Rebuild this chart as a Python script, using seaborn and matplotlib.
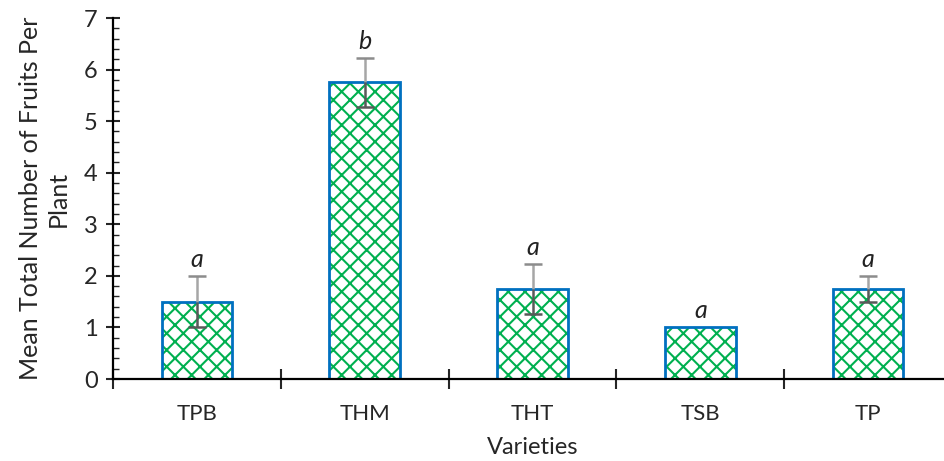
import numpy as np
import pandas as pd
import seaborn as sns
import matplotlib.pyplot as plt
from matplotlib.patches import Rectangle
from matplotlib.ticker import MultipleLocator, FixedLocator

varieties = ["TPB", "THM", "THT", "TSB", "TP"]
mean_fruits = [1.5, 5.75, 1.75, 1.0, 1.75]
std_err = [0.5, 0.48, 0.48, 0.0, 0.25]
letters = ["a", "b", "a", "a", "a"]

df = pd.DataFrame({"Varieties": varieties, "Fruits": mean_fruits})

sns.set_style("ticks")
plt.rcParams["font.family"] = ["Lato", "DejaVu Sans"]
plt.rcParams["hatch.linewidth"] = 1.5

fig = plt.figure(figsize=(9.45, 4.61), dpi=100)
ax = fig.add_axes([113 / 945, 1 - 379 / 461, 839 / 945, 361 / 461])

sns.barplot(data=df, x="Varieties", y="Fruits", ax=ax, width=0.42,
            color="white", edgecolor="#00B050", linewidth=0, errorbar=None)
# green hatch inside, blue outline on top
for p in list(ax.patches):
    p.set_hatch("xx")
    ax.add_patch(Rectangle(p.get_xy(), p.get_width(), p.get_height(), fill=False,
                           edgecolor="#0070C0", linewidth=2.0, zorder=2.5))

x = np.arange(len(varieties))
vals = np.array(mean_fruits)
errs = np.array(std_err)
shown = errs > 0
# upper half of the error bar (light), lower half inside the bar (dark)
ax.vlines(x[shown], vals[shown], vals[shown] + errs[shown], color="#A6A6A6", lw=1.8, zorder=3)
ax.plot(x[shown], vals[shown] + errs[shown], ls="none", marker="_", ms=13, mew=1.8, color="#8C8C8C", zorder=3)
ax.vlines(x[shown], vals[shown] - errs[shown], vals[shown], color="#595959", lw=1.8, zorder=3)
ax.plot(x[shown], vals[shown] - errs[shown], ls="none", marker="_", ms=13, mew=1.8, color="#595959", zorder=3)

for xi, v, e, t in zip(x, vals, errs, letters):
    ax.text(xi, v + e + 0.1, t, ha="center", va="bottom", fontsize=18, style="italic", color="#222222")

ax.set_xlim(-0.5, 4.5)
ax.set_ylim(0, 7)
ax.yaxis.set_major_locator(MultipleLocator(1))
ax.yaxis.set_minor_locator(MultipleLocator(0.2))
ax.xaxis.set_minor_locator(FixedLocator(np.arange(-0.5, 5, 1)))

ax.tick_params(axis="y", which="major", direction="inout", length=10, width=1.5, labelsize=17, pad=6)
ax.tick_params(axis="y", which="minor", direction="in", length=4, width=1.0)
ax.tick_params(axis="x", which="major", length=0, labelsize=16, pad=18)
ax.tick_params(axis="x", which="minor", direction="inout", length=14, width=1.5)

for s in ["top", "right"]:
    ax.spines[s].set_visible(False)
for s in ["left", "bottom"]:
    ax.spines[s].set_linewidth(1.6)
    ax.spines[s].set_color("black")

ax.set_xlabel("Varieties", fontsize=17, labelpad=9)
ax.set_ylabel("Mean Total Number of Fruits Per\nPlant", fontsize=18, labelpad=10, linespacing=1.25)

plt.savefig("out.png", dpi=100)
